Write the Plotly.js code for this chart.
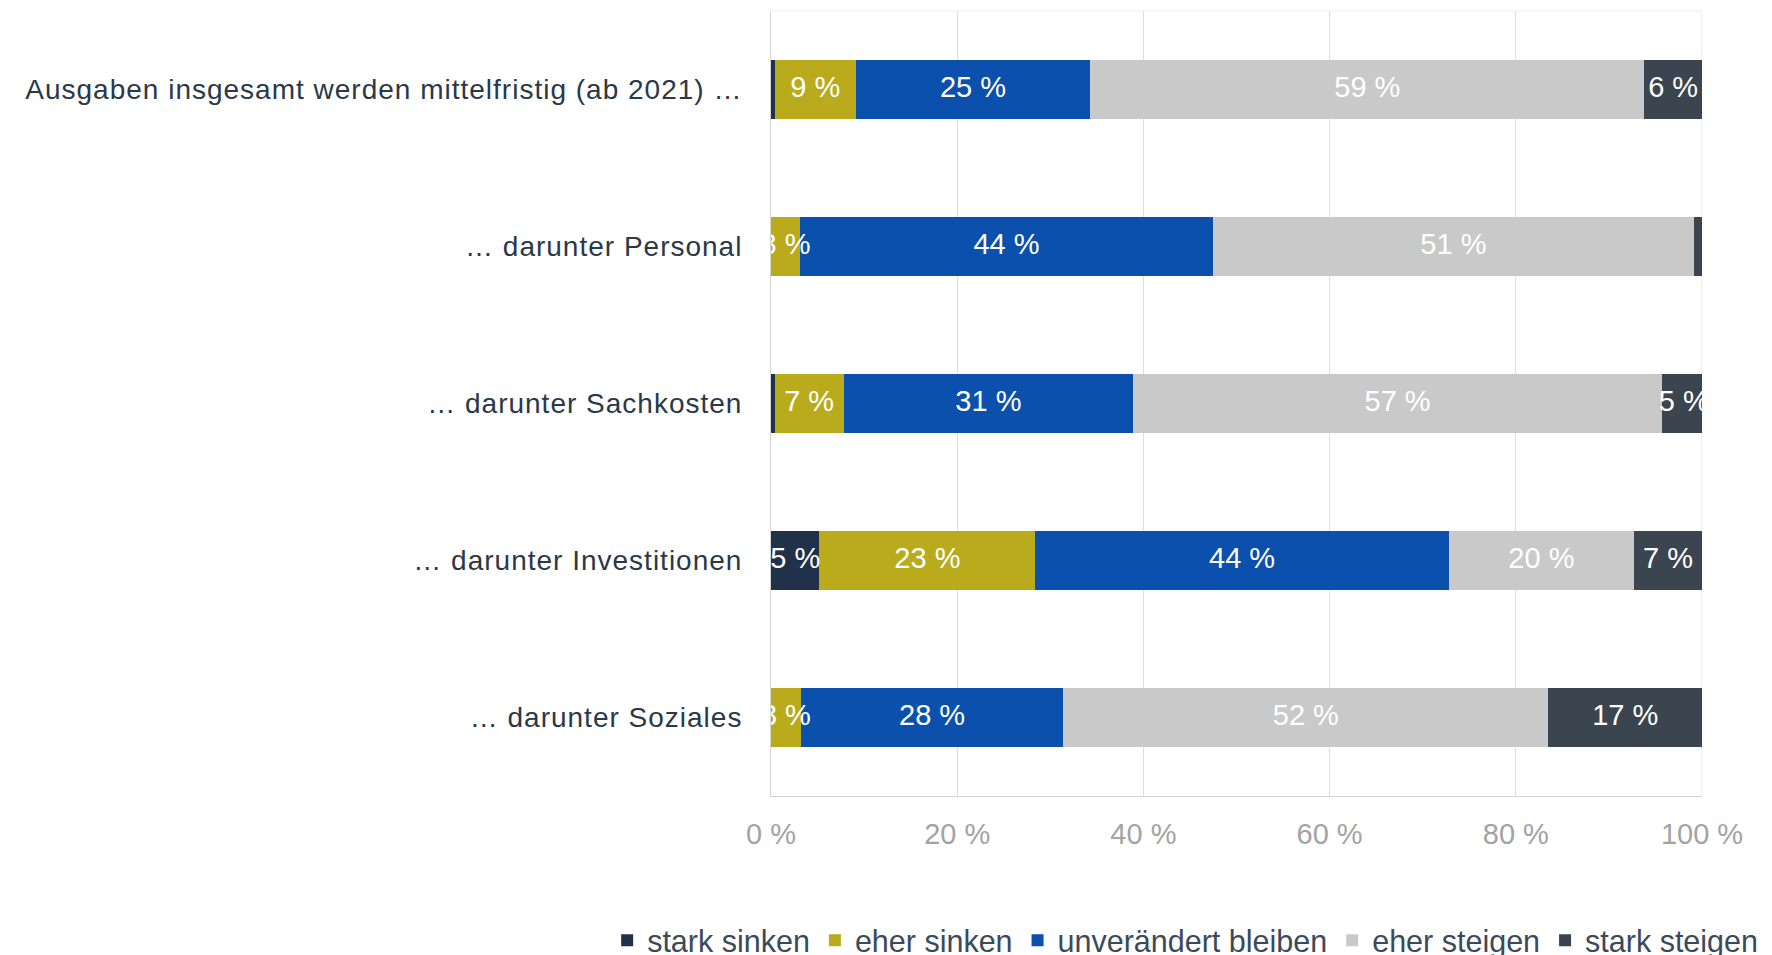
<!DOCTYPE html>
<html>
<head>
<meta charset="utf-8">
<script src="https://cdn.plot.ly/plotly-3.0.1.min.js"></script>
<style>
  html, body { margin: 0; padding: 0; background: #ffffff; overflow: hidden; width: 1772px; height: 955px; }
  #chart { width: 1772px; height: 980px; }
  #chart .ytick text { letter-spacing: 1px; }
</style>
</head>
<body>
<div id="chart"></div>
<script>
const categories = [
  "Ausgaben insgesamt werden mittelfristig (ab 2021) …",
  "… darunter Personal",
  "… darunter Sachkosten",
  "… darunter Investitionen",
  "… darunter Soziales"
];
const seriesNames = ["stark sinken", "eher sinken", "unverändert bleiben", "eher steigen", "stark steigen"];
const starkSinken   = [0.4, 0,    0.4,  5.2,  0];
const eherSinken    = [8.7, 3.1,  7.4,  23.2, 3.2];
const unveraendert  = [25.2, 44.4, 31.1, 44.4, 28.2];
const eherSteigen   = [59.5, 51.6, 56.8, 19.9, 52.1];
const starkSteigen  = [6.2, 0.9,  4.7,  7.3,  16.5];

const labelsStarkSinken  = ["", "", "", "5 %", ""];
const labelsEherSinken   = ["9 %", "3 %", "7 %", "23 %", "3 %"];
const labelsUnveraendert = ["25 %", "44 %", "31 %", "44 %", "28 %"];
const labelsEherSteigen  = ["59 %", "51 %", "57 %", "20 %", "52 %"];
const labelsStarkSteigen = ["6 %", "", "5 %", "7 %", "17 %"];

const tickVals = [0, 20, 40, 60, 80, 100];
const tickText = ["0 %", "20 %", "40 %", "60 %", "80 %", "100 %"];

const colors = ["#22314a", "#b9ab1c", "#0b50ac", "#c9c9c9", "#3a454f"];
const values = [starkSinken, eherSinken, unveraendert, eherSteigen, starkSteigen];
const labels = [labelsStarkSinken, labelsEherSinken, labelsUnveraendert, labelsEherSteigen, labelsStarkSteigen];

const FONT = "'Liberation Sans', Arial, sans-serif";

const traces = seriesNames.map((name, i) => ({
  type: "bar",
  orientation: "h",
  name: name,
  y: categories,
  x: values[i],
  marker: { color: colors[i], line: { width: 0 } },
  hoverinfo: "skip"
}));

// Segment labels drawn on top of all bars (so narrow-segment labels may overflow like the original)
const lx = [], ly = [], lt = [];
categories.forEach((cat, c) => {
  let start = 0;
  values.forEach((series, s) => {
    const v = series[c];
    if (labels[s][c]) {
      lx.push(start + v / 2);
      ly.push(cat);
      lt.push(labels[s][c]);
    }
    start += v;
  });
});
traces.push({
  type: "scatter",
  mode: "text",
  x: lx,
  y: ly,
  text: lt,
  textposition: "middle center",
  textfont: { family: FONT, size: 29, color: "#ffffff" },
  cliponaxis: true,
  showlegend: false,
  hoverinfo: "skip"
});

const layout = {
  width: 1772,
  height: 980,
  barmode: "stack",
  bargap: 0.62,
  paper_bgcolor: "#ffffff",
  plot_bgcolor: "#ffffff",
  margin: { l: 771, r: 70, t: 10.5, b: 183.5 },
  font: { family: FONT },
  xaxis: {
    range: [0, 100],
    tickvals: tickVals,
    ticktext: tickText,
    showgrid: true,
    gridcolor: "#dedede",
    gridwidth: 1,
    zeroline: false,
    showline: true,
    linecolor: "#d4d4d4",
    linewidth: 1,
    ticks: "",
    ticklabelstandoff: 12,
    tickfont: { family: FONT, size: 29, color: "#a3a3a3" },
    fixedrange: true
  },
  yaxis: {
    autorange: "reversed",
    showgrid: false,
    zeroline: false,
    showline: true,
    linecolor: "#d4d4d4",
    ticks: "",
    ticklabelstandoff: 22,
    tickfont: { family: FONT, size: 28, color: "#2b3848" },
    fixedrange: true
  },
  shapes: [
    { type: "line", xref: "x", yref: "paper", x0: 100, x1: 100, y0: 0, y1: 1, line: { color: "#dedede", width: 1 }, layer: "below" },
    { type: "line", xref: "paper", yref: "paper", x0: 0, x1: 1, y0: 1, y1: 1, line: { color: "#eeeeee", width: 1 }, layer: "below" }
  ],
  showlegend: true,
  legend: {
    orientation: "h",
    x: -0.176,
    xanchor: "left",
    y: -0.184,
    yanchor: "middle",
    traceorder: "normal",
    font: { family: FONT, size: 30.5, color: "#3b4a5a" },
    itemwidth: 30,
    bgcolor: "rgba(0,0,0,0)"
  }
};

Plotly.newPlot("chart", traces, layout, { displayModeBar: false, staticPlot: true });
</script>
</body>
</html>
